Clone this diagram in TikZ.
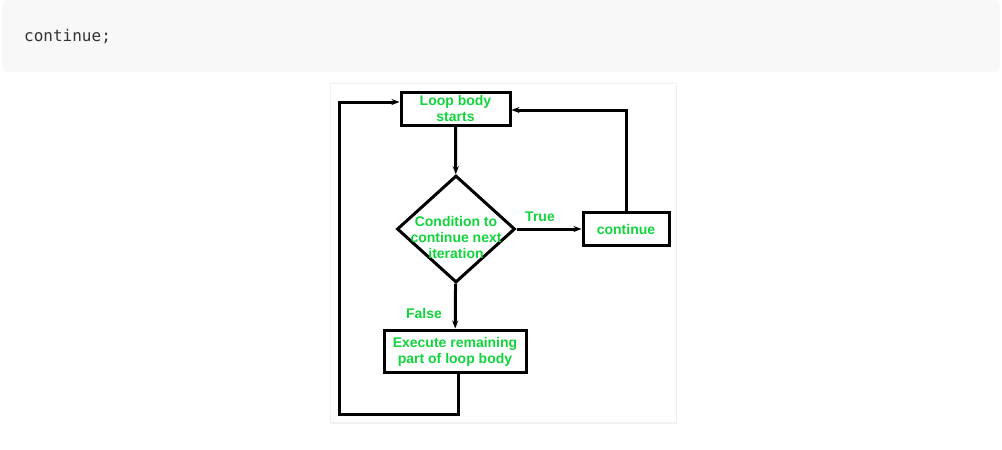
\documentclass[tikz,border=0pt]{standalone}
\usepackage{fontspec}
\setmainfont{Liberation Sans}
\newfontfamily\codefont{DejaVu Sans Mono}
\usetikzlibrary{arrows.meta,shapes.geometric}

\definecolor{codebg}{HTML}{F8F8F8}
\definecolor{codetext}{HTML}{333333}
\definecolor{labelgreen}{RGB}{18,212,60}
\definecolor{panelline}{HTML}{EFEFEF}

\tikzset{
    block/.style={draw, line width=3pt, minimum width=#1, minimum height=33pt, inner sep=0pt,
        font=\bfseries\fontsize{14}{16}\selectfont, text=labelgreen, align=center},
    decision/.style={draw, diamond, line width=3pt, minimum width=118pt, minimum height=107pt, inner sep=0pt},
    lbl/.style={font=\bfseries\fontsize{14}{16}\selectfont, text=labelgreen, align=center, inner sep=0pt},
    flow/.style={->, line width=3pt}
}

\begin{document}
\begin{tikzpicture}[x=1pt, y=-1pt, >={Stealth[length=8pt,width=6pt]}]
    \useasboundingbox (0,0) rectangle (1002,450);
    \fill[white] (0,0) rectangle (1002,450);

    % code box above
    \fill[codebg, rounded corners=6pt] (2,0) rectangle (1000,72);
    \node[anchor=base west, inner sep=0pt, text=codetext, font=\codefont\fontsize{16}{18}\selectfont] (code) at (24,41) {continue;};

    % picture panel
    \fill[black!5] (331,84) rectangle (677,424);
    \filldraw[fill=white, draw=panelline] (330,83) rectangle (676,422);

    % nodes of the flowchart
    \node[block=109pt] (start) at (455.5,108.5) {Loop body\\starts};
    \node[decision] (cond) at (456,229) {};
    \node[lbl] (condtext) at (456,237) {Condition to\\continue next\\iteration};
    \node[block=86pt] (cont) at (626,229) {continue};
    \node[block=142pt, minimum height=42pt] (exec) at (455,351) {\strut Execute remaining\\part of loop body};

    % branch labels
    \node[lbl] (true) at (540,217) {True};
    \node[lbl] (false) at (424,313) {False};

    % connectors
    \draw[flow] (start) -- (cond);
    \draw[flow] (cond) -- (cont);
    \draw[flow] (cont.north) |- ([yshift=-1.5pt]start.east);
    \draw[flow] (cond) -- (exec);

    % loop back to the start
    \coordinate (back) at (339,414);
    \draw[flow] ([xshift=3pt]exec.south) |- (back) |- ([yshift=6.5pt]start.west);
\end{tikzpicture}
\end{document}
